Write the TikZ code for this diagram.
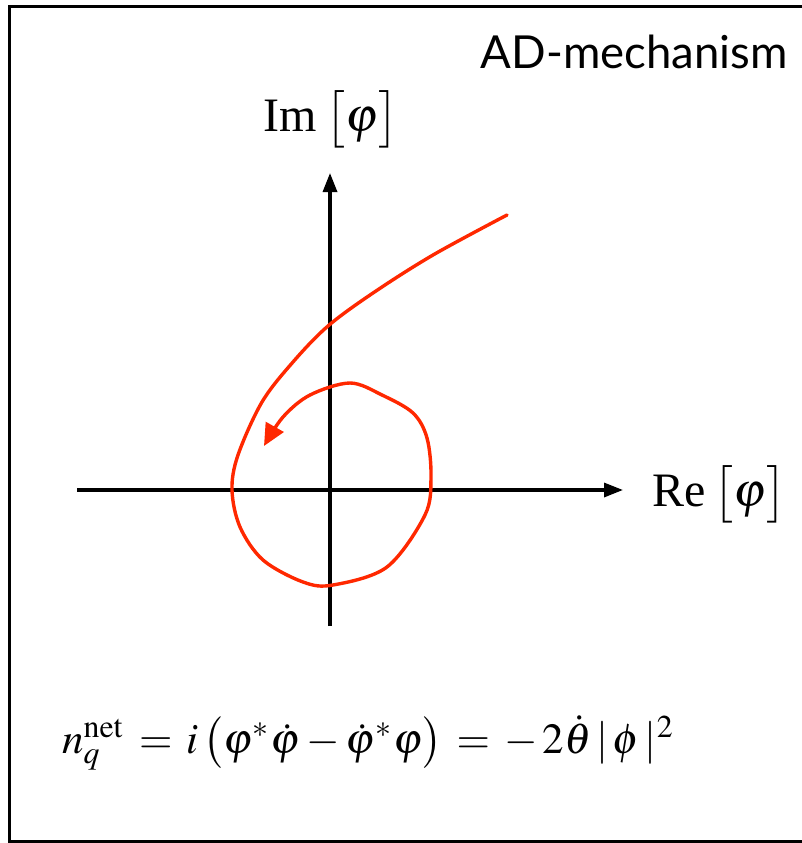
\documentclass[tikz,border=0pt]{standalone}
\usepackage{mathptmx}
\usepackage{fontspec}
\setmainfont{Liberation Serif}
\newfontfamily\gillfont{Lato}
\usetikzlibrary{arrows.meta}
\definecolor{spiralred}{RGB}{255,40,0}
\begin{document}
\begin{tikzpicture}[x=1pt,y=-1pt,
  axisline/.style={line width=3.3pt,-{Triangle[length=19pt,width=14pt]}},
  spiral/.style={draw=spiralred,line width=3.4pt,line cap=round,line join=round},
  lbl/.style={inner sep=0pt}]
\useasboundingbox (0,0) rectangle (801,843);
% frame
\draw[line width=3pt] (806,6.5) -- (9.5,6.5) -- (9.5,841.5) -- (806,841.5);
% axes
\coordinate (xl) at (77,490);
\coordinate (xr) at (623,490);
\coordinate (yb) at (330,626);
\coordinate (yt) at (330,173);
\draw[axisline] (xl) -- (xr);
\draw[axisline] (yb) -- (yt);
% labels
\node[lbl,anchor=west] (re) at (652,494) {\scalebox{4.8}{Re\,$\bigl[\varphi\bigr]$}};
\node[lbl] (im) at (331,119) {\scalebox{4.8}{Im\,$\bigl[\varphi\bigr]$}};
\node[inner sep=0pt,anchor=east,font=\gillfont\fontsize{45.5}{52}\selectfont] (title) at (788,52) {AD-mechanism};
% spiral
\draw[spiral,-{Triangle[length=22pt,width=20pt]}] plot[smooth,tension=0.55] coordinates {
 (507,215) (433,255) (373,293) (328,326) (293,362) (262,402)
 (238,455) (232,490) (240,527) (263,560) (303,582) (333,585) (387,567)
 (425,515) (431,477) (427,438) (413,413) (382,395) (350,383) (310,395)
 (283,417) (264,446)};
% formula
\node[inner sep=0pt,anchor=base west] (eq) at (62,753)
 {\scalebox{4.3}{$n_q^{\mathrm{net}} \,=\, i\,\bigl(\varphi^*\dot\varphi - \dot\varphi^*\varphi\bigr) \,=\, -\,2\dot\theta\,|\,\phi\,|^2$}};
\end{tikzpicture}
\end{document}
